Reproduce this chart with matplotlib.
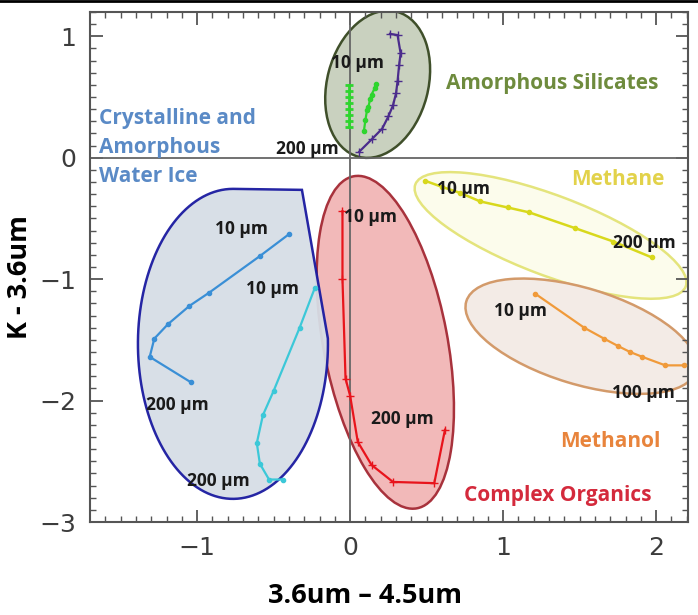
import numpy as np
import matplotlib
matplotlib.use("Agg")
import matplotlib.pyplot as plt
from matplotlib.patches import Ellipse, PathPatch
from matplotlib.path import Path
from matplotlib.transforms import ScaledTranslation

# curves (x = 3.6um - 4.5um, y = K - 3.6um)
water1_x = [-0.40, -0.59, -0.92, -1.05, -1.19, -1.28, -1.31, -1.04]
water1_y = [-0.63, -0.81, -1.11, -1.22, -1.37, -1.49, -1.64, -1.85]
water2_x = [-0.23, -0.33, -0.50, -0.57, -0.61, -0.59, -0.53, -0.44]
water2_y = [-1.07, -1.40, -1.92, -2.12, -2.35, -2.52, -2.65, -2.65]

purple_x = [0.26, 0.31, 0.33, 0.32, 0.31, 0.30, 0.28, 0.25, 0.21, 0.14, 0.06]
purple_y = [1.02, 1.01, 0.86, 0.76, 0.63, 0.53, 0.43, 0.34, 0.24, 0.15, 0.05]
green1_x = [-0.01, -0.01, -0.01, -0.01, -0.01, -0.01, -0.01, -0.01]
green1_y = [0.60, 0.55, 0.50, 0.45, 0.40, 0.35, 0.30, 0.25]
green2_x = [0.17, 0.16, 0.14, 0.13, 0.12, 0.11, 0.10, 0.09]
green2_y = [0.61, 0.57, 0.52, 0.48, 0.42, 0.39, 0.31, 0.22]

organics_x = [-0.05, -0.05, -0.03, 0.00, 0.05, 0.14, 0.28, 0.55, 0.62]
organics_y = [-0.44, -1.00, -1.82, -1.96, -2.34, -2.53, -2.67, -2.68, -2.24]

methane_x = [0.49, 0.60, 0.72, 0.85, 1.03, 1.17, 1.47, 1.72, 1.97]
methane_y = [-0.19, -0.24, -0.29, -0.36, -0.41, -0.45, -0.58, -0.69, -0.82]

methanol_x = [1.21, 1.53, 1.66, 1.75, 1.83, 1.91, 2.06, 2.18]
methanol_y = [-1.12, -1.40, -1.49, -1.55, -1.60, -1.64, -1.71, -1.71]

# grain size labels
size_text = ["10 µm", "200 µm", "10 µm", "10 µm", "200 µm", "200 µm",
             "10 µm", "200 µm", "10 µm", "200 µm", "10 µm", "100 µm"]
size_x = [0.045, -0.28, -0.71, -0.51, -1.13, -0.86, 0.13, 0.34, 0.74, 1.92, 1.11, 1.92]
size_y = [0.78, 0.07, -0.59, -1.08, -2.04, -2.66, -0.49, -2.15, -0.26, -0.70, -1.26, -1.94]

# region names
group_text = ["Crystalline and\nAmorphous\nWater Ice", "Amorphous Silicates",
              "Methane", "Methanol", "Complex Organics"]
group_x = [-1.64, 1.32, 1.75, 1.70, 1.36]
group_y = [0.08, 0.61, -0.18, -2.34, -2.78]
group_col = ["#5a8ac6", "#6e8b3d", "#e2d24a", "#e8843c", "#d42a3c"]
group_ha = ["left", "center", "center", "center", "center"]

# ellipse outlines: centre (data), width/height in inches, angle
ell_center = [(0.18, 0.605), (0.23, -1.52), (1.31, -0.64), (1.51, -1.47)]
ell_w = [1.01, 1.24, 2.89, 2.40]
ell_h = [1.50, 3.38, 0.80, 0.96]
ell_ang = [-14.8, 10.8, -20.7, -16.9]
ell_edge = ["#3f4f2a", "#a8323c", "#e4e47c", "#d39a6a"]
ell_face = ["#c9d1bf", "#f2b9b9", "#fcfcec", "#f3ebe6"]

lab_font = "Open Sans"

fig = plt.figure(figsize=(6.98, 6.15), dpi=100)
ax = fig.add_axes([0.129, 0.1512, 0.857, 0.8293])
ax.set_xlim(-1.7, 2.21)
ax.set_ylim(-3.0, 1.2)

for c, w, h, a, ec, fc in zip(ell_center, ell_w, ell_h, ell_ang, ell_edge, ell_face):
    tr = fig.dpi_scale_trans + ScaledTranslation(c[0], c[1], ax.transData)
    ax.add_patch(Ellipse((0, 0), w, h, angle=a, transform=tr,
                         facecolor=fc, edgecolor=ec, lw=1.8, zorder=1))

# water ice outline: lower half ellipse with a cut corner at the top right
t = np.radians(np.linspace(90, 362, 120))
verts = list(zip(0.95 * np.cos(t), 1.55 * np.sin(t)))
verts += [(0.69, 1.54), (0.0, 1.55)]
tr = fig.dpi_scale_trans + ScaledTranslation(-0.766, -1.533, ax.transData)
ax.add_patch(PathPatch(Path(verts, closed=True), transform=tr,
                       facecolor="#d6dee6", edgecolor="#1a1aa0", lw=1.8,
                       alpha=0.95, zorder=1.5))

ax.axhline(0, color="#666666", lw=1.3, zorder=2)
ax.axvline(0, color="#666666", lw=1.3, zorder=2)

ax.plot(water1_x, water1_y, color="#3a8fd6", lw=1.6, marker="o", ms=3, zorder=3)
ax.plot(water2_x, water2_y, color="#3cc8d8", lw=1.6, marker="o", ms=3, zorder=3)
ax.plot(purple_x, purple_y, color="#4b2c8c", lw=1.6, marker="+", ms=6, zorder=3)
ax.plot(green1_x, green1_y, color="#2ed52e", lw=2, marker="_", ms=6, mew=2, zorder=3)
ax.plot(green2_x, green2_y, color="#2ed52e", lw=1.6, marker="o", ms=3, zorder=3)
ax.plot(organics_x, organics_y, color="#e8141c", lw=1.6, marker="+", ms=6, zorder=3)
ax.plot(methane_x, methane_y, color="#d8d81c", lw=1.8, marker="o", ms=3, zorder=3)
ax.plot(methanol_x, methanol_y, color="#f09a3a", lw=1.6, marker="o", ms=3, zorder=3)

for s, x, y in zip(size_text, size_x, size_y):
    ax.text(x, y, s, fontsize=12.5, fontweight="bold", family=lab_font,
            ha="center", va="center", color="#1a1a1a", zorder=4)

for s, x, y, col, ha in zip(group_text, group_x, group_y, group_col, group_ha):
    ax.text(x, y, s, fontsize=15, fontweight="bold", family=lab_font,
            ha=ha, va="center", color=col, linespacing=1.5, zorder=4)

ax.set_xticks([-1, 0, 1, 2])
ax.set_yticks([-3, -2, -1, 0, 1])
ax.set_xticks(np.arange(-1.6, 2.25, 0.1), minor=True)
ax.set_yticks(np.arange(-2.9, 1.25, 0.1), minor=True)
ax.tick_params(which="both", direction="in", top=True, right=True,
               colors="#555555", labelcolor="#3c3c3c", labelsize=18)
ax.tick_params(which="major", length=9, width=1.3, pad=10)
ax.tick_params(which="minor", length=4, width=1.0)
for sp in ax.spines.values():
    sp.set_color("#555555")
    sp.set_linewidth(1.5)

ax.set_xlabel("3.6um – 4.5um", fontsize=19.5, fontweight="bold", family=lab_font)
ax.set_ylabel("K - 3.6um", fontsize=19.5, fontweight="bold", family=lab_font)
ax.xaxis.set_label_coords(0.46, -0.146)
ax.xaxis.label.set_va("center")
ax.yaxis.set_label_coords(-0.117, 0.48)
ax.yaxis.label.set_va("center")

fig.add_artist(plt.Line2D([0, 1], [0.998, 0.998], color="black", lw=2, transform=fig.transFigure))

fig.savefig("out.png", dpi=100)
